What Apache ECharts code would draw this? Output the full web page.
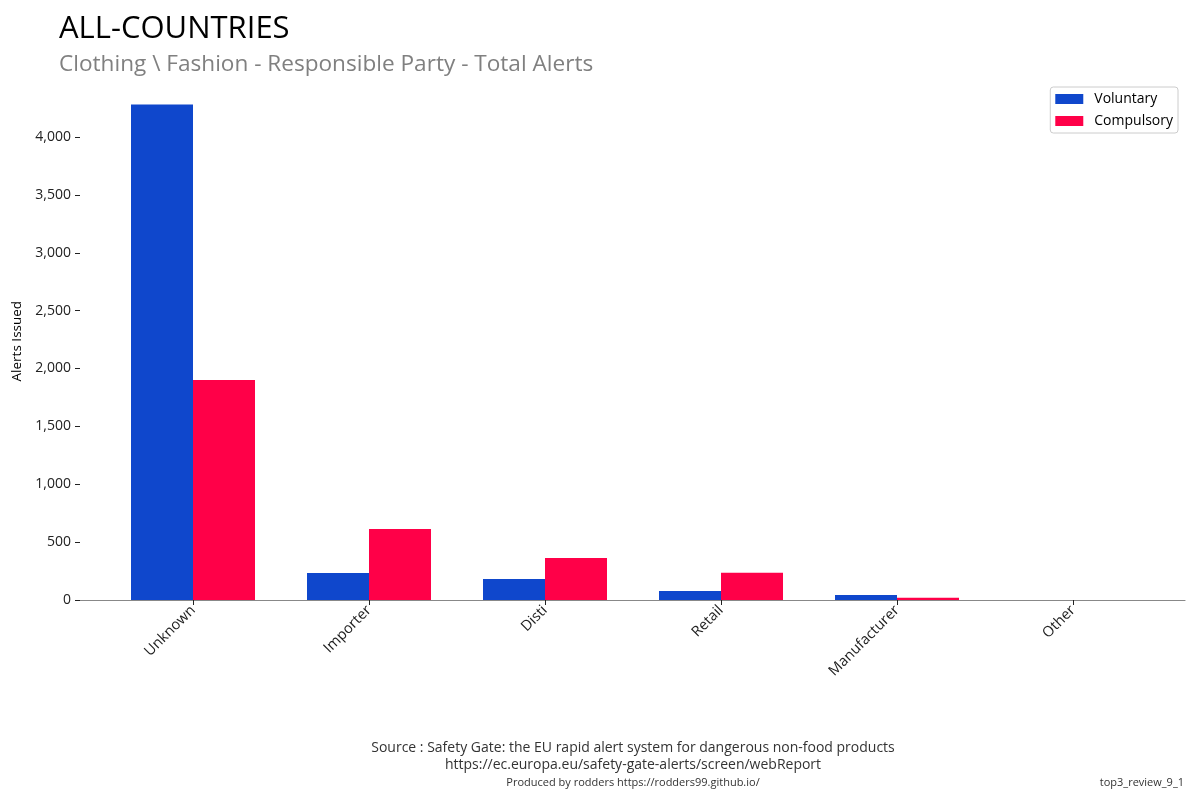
<!DOCTYPE html>
<html><head><meta charset="utf-8">
<script src="https://cdn.jsdelivr.net/npm/echarts@6/dist/echarts.min.js"></script>
<style>html,body{margin:0;padding:0;background:#fff}#c{width:1200px;height:800px}</style>
</head><body><div id="c"></div>
<script>
var categories = ['Unknown','Importer','Disti','Retail','Manufacturer','Other'];
var voluntary = [4280, 233, 181, 78, 43, 0];
var compulsory = [1900, 613, 363, 236, 20, 0];
var yTicks = [0, 500, 1000, 1500, 2000, 2500, 3000, 3500, 4000];

var FONT = '"Open Sans", "Noto Sans", sans-serif';
var chart = echarts.init(document.getElementById('c'));
var yMax = 4300;
chart.setOption({
  animation: false,
  textStyle: {fontFamily: FONT},
  title: [
    {text: 'ALL-COUNTRIES', left: 54, top: 9, textStyle: {fontFamily: FONT, fontSize: 31, fontWeight: 'normal', color: '#000'}},
    {text: 'Clothing \\ Fashion - Responsible Party - Total Alerts', left: 54, top: 48, textStyle: {fontFamily: FONT, fontSize: 22.6, fontWeight: 'normal', color: '#808080'}},
    {text: 'Source : Safety Gate: the EU rapid alert system for dangerous non-food products\nhttps://ec.europa.eu/safety-gate-alerts/screen/webReport', left: 628, top: 735, textAlign: 'center', textStyle: {fontFamily: FONT, fontSize: 14, fontWeight: 'normal', color: '#333', lineHeight: 17}},
    {text: 'Produced by rodders https://rodders99.github.io/', left: 628, top: 772, textAlign: 'center', textStyle: {fontFamily: FONT, fontSize: 11, fontWeight: 'normal', color: '#333'}},
    {text: 'top3_review_9_1', right: 11, top: 772, textStyle: {fontFamily: FONT, fontSize: 11, fontWeight: 'normal', color: '#333'}}
  ],
  legend: {
    orient: 'vertical', right: 22, top: 87, itemWidth: 28, itemHeight: 10, itemGap: 8,
    icon: 'rect',
    padding: [5, 5, 5, 5], borderColor: '#ccc', borderWidth: 1, borderRadius: 3,
    textStyle: {fontFamily: FONT, fontSize: 14, color: '#000', padding: [0, 0, 0, 6]},
    data: ['Voluntary', 'Compulsory']
  },
  grid: [
    {left: 105, right: 39, top: 102.3, bottom: 200},
    {left: 80, right: 15, top: 102.3, bottom: 200}
  ],
  xAxis: [
    {type: 'category', gridIndex: 0, data: categories,
     axisLine: {show: false},
     axisTick: {show: true, alignWithLabel: true, length: 5, lineStyle: {color: '#222'}},
     axisLabel: {rotate: 45, fontSize: 14.5, color: '#222', fontFamily: FONT, margin: 8, interval: 0}},
    {type: 'value', gridIndex: 1, min: 0, max: 1,
     axisLine: {show: true, onZero: false, lineStyle: {color: '#888', width: 1.2}},
     axisTick: {show: false}, axisLabel: {show: false}, splitLine: {show: false}}
  ],
  yAxis: [
    {type: 'value', gridIndex: 0, min: 0, max: yMax, show: false, splitLine: {show: false}},
    {type: 'value', gridIndex: 1, min: 0, max: yMax, interval: 500,
     name: 'Alerts Issued', nameLocation: 'middle', nameGap: 56,
     nameTextStyle: {fontFamily: FONT, fontSize: 13.5, color: '#000', padding: [0, 0, 0, 20]},
     axisLine: {show: false},
     axisTick: {show: true, length: 5, lineStyle: {color: '#222'}, customValues: yTicks},
     axisLabel: {fontSize: 14, color: '#222', fontFamily: FONT, margin: 9, customValues: yTicks,
       formatter: function (v) { return Number(v).toLocaleString('en-US'); }},
     splitLine: {show: false}}
  ],
  series: [
    {name: 'Voluntary', type: 'bar', xAxisIndex: 0, yAxisIndex: 0, data: voluntary, barWidth: 62, barGap: '0%', itemStyle: {color: '#0f47cc'}},
    {name: 'Compulsory', type: 'bar', xAxisIndex: 0, yAxisIndex: 0, data: compulsory, barWidth: 62, barGap: '0%', itemStyle: {color: '#ff0048'}}
  ]
});
</script></body></html>
